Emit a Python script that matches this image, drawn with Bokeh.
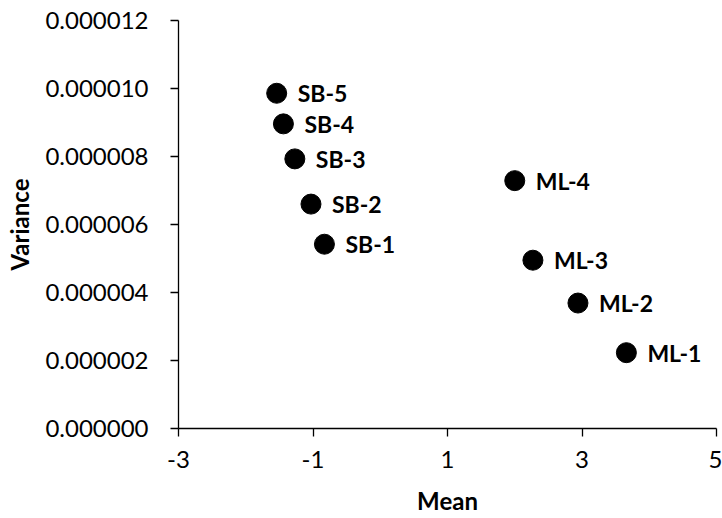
from bokeh.plotting import figure
from bokeh.models import ColumnDataSource, FixedTicker, PrintfTickFormatter, Range1d, LabelSet
from bokeh.core.properties import value
from bokeh.embed import file_html
from bokeh.resources import INLINE

labels = ["SB-5", "SB-4", "SB-3", "SB-2", "SB-1", "ML-4", "ML-3", "ML-2", "ML-1"]
mean = [-1.54, -1.44, -1.27, -1.03, -0.83, 2.00, 2.27, 2.94, 3.66]
variance = [9.86e-6, 8.96e-6, 7.93e-6, 6.60e-6, 5.42e-6, 7.29e-6, 4.95e-6, 3.69e-6, 2.23e-6]
x_ticks = [-3, -1, 1, 3, 5]
y_ticks = [0, 2e-6, 4e-6, 6e-6, 8e-6, 10e-6, 12e-6]

src = ColumnDataSource(dict(x=mean, y=variance, label=labels))

p = figure(width=722, height=518, output_backend="svg", toolbar_location=None,
           x_range=Range1d(-3, 5), y_range=Range1d(0, 12e-6),
           min_border_left=178, min_border_right=6, min_border_top=20, min_border_bottom=90)
p.outline_line_color = None
p.xgrid.visible = False
p.ygrid.visible = False

p.scatter("x", "y", source=src, size=20, fill_color="black", line_color="black")
p.add_layout(LabelSet(x="x", y="y", text="label", source=src, x_offset=21, y_offset=0,
                      text_baseline="middle", text_font=value("Lato"), text_font_style="bold",
                      text_font_size="23px", text_color="black"))

font = "Lato"
p.xaxis.ticker = FixedTicker(ticks=x_ticks)
p.yaxis.ticker = FixedTicker(ticks=y_ticks)
p.xaxis.formatter = PrintfTickFormatter(format="%d")
p.yaxis.formatter = PrintfTickFormatter(format="%.6f")
for ax in (p.xaxis, p.yaxis):
    ax.axis_line_color = "black"
    ax.axis_line_width = 1.3
    ax.major_tick_line_color = "black"
    ax.major_tick_line_width = 1.3
    ax.major_tick_in = 0
    ax.major_tick_out = 8
    ax.minor_tick_line_color = None
    ax.major_label_text_font = font
    ax.major_label_text_font_size = "24px"
    ax.major_label_text_color = "black"
    ax.axis_label_text_font = font
    ax.axis_label_text_font_size = "24px"
    ax.axis_label_text_font_style = "bold"
    ax.axis_label_text_color = "black"
p.xaxis.axis_label = "Mean"
p.yaxis.axis_label = "Variance"
p.yaxis.major_label_standoff = 22
p.xaxis.major_label_standoff = 14
p.yaxis.axis_label_standoff = 8
p.xaxis.axis_label_standoff = 15

open("out.html", "w").write(file_html(p, INLINE))
